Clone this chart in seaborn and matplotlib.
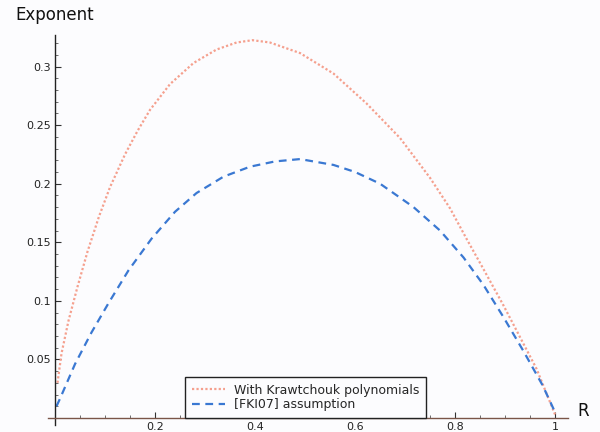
import matplotlib
matplotlib.use("Agg")
import matplotlib.pyplot as plt
import pandas as pd
import seaborn as sns
from matplotlib.ticker import MultipleLocator, FixedLocator

# Values
KRAW_R = [0.005, 0.013, 0.027, 0.045, 0.065, 0.088, 0.11, 0.14, 0.165, 0.19,
          0.23, 0.277, 0.323, 0.363, 0.395, 0.43, 0.49, 0.557, 0.623, 0.69,
          0.75, 0.79, 0.823, 0.857, 0.897, 0.93, 0.963, 1.0]
KRAW_E = [0.030, 0.055, 0.083, 0.112, 0.142, 0.172, 0.197, 0.225, 0.245, 0.263,
          0.285, 0.303, 0.3145, 0.3205, 0.3225, 0.3205, 0.3115, 0.294, 0.2685, 0.239,
          0.205, 0.179, 0.153, 0.127, 0.096, 0.069, 0.042, 0.003]

FKI_R = [0.003, 0.01, 0.04, 0.073, 0.107, 0.147, 0.193, 0.24, 0.283, 0.337,
         0.39, 0.44, 0.49, 0.557, 0.60, 0.65, 0.717, 0.77, 0.817, 0.857,
         0.897, 0.937, 0.975, 1.0]
FKI_E = [0.010, 0.0165, 0.046, 0.073, 0.098, 0.126, 0.153, 0.176, 0.192, 0.206,
         0.2145, 0.219, 0.221, 0.216, 0.210, 0.200, 0.180, 0.160, 0.137, 0.1135,
         0.086, 0.057, 0.028, 0.005]

X_TICKS = [0.2, 0.4, 0.6, 0.8, 1.0]
X_LABELS = ["0.2", "0.4", "0.6", "0.8", "1"]
Y_TICKS = [0.05, 0.1, 0.15, 0.2, 0.25, 0.3]
Y_LABELS = ["0.05", "0.1", "0.15", "0.2", "0.25", "0.3"]

BG = "#fcfcfe"


def main() -> None:
    sns.set_style("ticks")
    plt.rcParams["font.family"] = ["DejaVu Sans"]

    fig = plt.figure(figsize=(6, 4.32), dpi=100)
    fig.patch.set_facecolor(BG)
    ax = fig.add_axes([0.08, 0.0162, 0.8667, 0.903])
    ax.set_facecolor(BG)

    kraw = pd.DataFrame({"R": KRAW_R, "E": KRAW_E})
    fki = pd.DataFrame({"R": FKI_R, "E": FKI_E})

    sns.lineplot(data=kraw, x="R", y="E", ax=ax, color="#f5a08e",
                 linestyle=(0, (1, 1)), linewidth=1.6,
                 label="With Krawtchouk polynomials")
    sns.lineplot(data=fki, x="R", y="E", ax=ax, color="#3a78d2",
                 linestyle=(0, (3.5, 2.5)), linewidth=1.6,
                 label="[FKI07] assumption")

    ax.set_xlim(-0.014, 1.026)
    ax.set_ylim(-0.006, 0.327)

    for side in ("top", "right"):
        ax.spines[side].set_visible(False)
    ax.spines["left"].set_position(("data", 0))
    ax.spines["bottom"].set_position(("data", 0))
    ax.spines["left"].set_color("#222222")
    ax.spines["bottom"].set_color("#7a5548")
    ax.spines["left"].set_linewidth(1.0)
    ax.spines["bottom"].set_linewidth(1.0)

    ax.xaxis.set_major_locator(FixedLocator(X_TICKS))
    ax.set_xticklabels(X_LABELS)
    ax.yaxis.set_major_locator(FixedLocator(Y_TICKS))
    ax.set_yticklabels(Y_LABELS)
    ax.xaxis.set_minor_locator(MultipleLocator(0.05))
    ax.yaxis.set_minor_locator(MultipleLocator(0.01))
    ax.tick_params(which="major", direction="in", length=4, width=0.8,
                   labelsize=8, colors="#333333", labelcolor="#222222", pad=3)
    ax.tick_params(which="minor", direction="in", length=2.5, width=0.6,
                   colors="#555555")

    ax.set_xlabel("")
    ax.set_ylabel("")
    fig.text(0.025, 0.965, "Exponent", fontsize=12, color="#111111",
             va="center", ha="left")
    fig.text(0.963, 0.048, "R", fontsize=12, color="#111111",
             va="center", ha="left")

    leg = ax.legend(loc="lower left", bbox_to_anchor=(0.263, 0.018),
                    frameon=True, fancybox=False, framealpha=1,
                    edgecolor="#222222", fontsize=9, handlelength=2.7,
                    borderpad=0.55, labelspacing=0.1, handletextpad=0.7,
                    borderaxespad=0)
    leg.get_frame().set_linewidth(1.0)
    leg.get_frame().set_facecolor(BG)

    fig.savefig("out.png", dpi=100, facecolor=fig.get_facecolor())
    plt.close(fig)


if __name__ == "__main__":
    main()
